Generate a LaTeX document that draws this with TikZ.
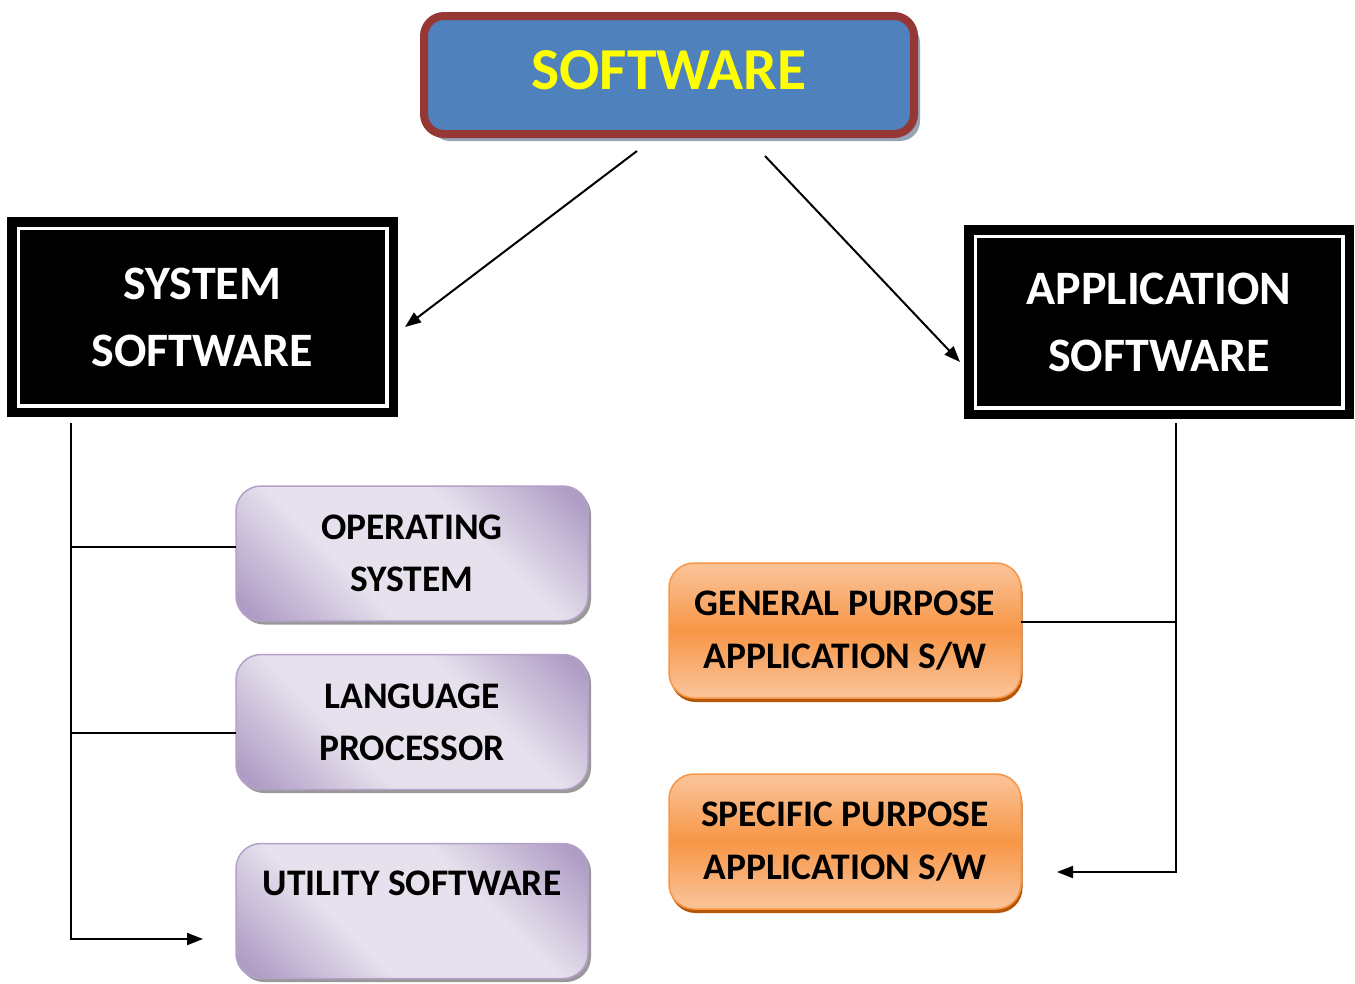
\documentclass[tikz,border=0pt]{standalone}
\usepackage{fontspec}
\setmainfont{Carlito}
\usetikzlibrary{shadows,arrows.meta}
\definecolor{titleblue}{HTML}{4F81BD}
\definecolor{titlered}{HTML}{953735}
\definecolor{titleshadow}{HTML}{97A3B4}
\definecolor{titleyellow}{HTML}{FFFF00}
\definecolor{purplight}{HTML}{E6E1ED}
\definecolor{purpdark}{HTML}{B09DC6}
\definecolor{purpborder}{HTML}{B3A2C7}
\definecolor{orlight}{HTML}{FAC195}
\definecolor{ormid}{HTML}{F79646}
\definecolor{orborder}{HTML}{F79646}
\definecolor{orshadow}{HTML}{B65708}
\pgfdeclarehorizontalshading{purpshade}{100bp}{color(0bp)=(purpdark); color(18bp)=(purpdark); color(38bp)=(purplight); color(62bp)=(purplight); color(82bp)=(purpdark); color(100bp)=(purpdark)}
\pgfdeclareverticalshading{orshade}{100bp}{color(0bp)=(orlight); color(27bp)=(orlight); color(50bp)=(ormid); color(73bp)=(orlight); color(100bp)=(orlight)}
\begin{document}
\begin{tikzpicture}[x=1pt,y=-1pt,
  titlebox/.style={draw=titlered, line width=8pt, fill=titleblue, rounded corners=20pt,
    minimum width=490pt, minimum height=118pt, inner sep=0pt, outer sep=0pt,
    drop shadow={shadow xshift=6pt, shadow yshift=-7pt, fill=titleshadow, opacity=1}},
  titletext/.style={text=titleyellow, font=\fontsize{59.5}{70}\selectfont\bfseries},
  blackbox/.style={draw=black, double=white, double distance=3.5pt, line width=9.5pt,
    fill=black, text=white, inner sep=0pt, outer sep=0pt, align=center,
    font=\fontsize{48}{67}\selectfont\bfseries},
  pbox/.style={rounded corners=25pt, draw=purpborder, line width=1.5pt, shade, shading=purpshade,
    shading angle=45, minimum width=352pt, minimum height=135pt, inner sep=0pt, outer sep=0pt,
    align=center, font=\fontsize{37.5}{52}\selectfont\bfseries,
    drop shadow={shadow xshift=3pt, shadow yshift=-3.5pt, fill=black!40, opacity=1}},
  obox/.style={rounded corners=25pt, draw=orborder, line width=1.5pt, shade, shading=orshade,
    minimum width=352pt, minimum height=135pt, inner sep=0pt, outer sep=0pt,
    align=center, font=\fontsize{37.5}{53}\selectfont\bfseries,
    drop shadow={shadow xshift=1.5pt, shadow yshift=-4pt, fill=orshadow, opacity=1}},
  ptext/.style={font=\fontsize{37.5}{52}\selectfont\bfseries},
  conn/.style={draw=black, line width=2pt},
  arr/.style={conn, -{Triangle[length=16pt,width=12pt]}}
]
\useasboundingbox (0,0) rectangle (1355,983);

\node[titlebox] (soft) at (669,75) {};
\node[titletext] (softtext) at (669,70) {SOFTWARE};

\node[blackbox, minimum width=368.5pt, minimum height=177.5pt] (sys) at (202.5,317) {SYSTEM\\SOFTWARE};
\node[blackbox, minimum width=367.5pt, minimum height=171.5pt] (app) at (1159,322) {APPLICATION\\SOFTWARE};

\node[pbox] (os) at (412,553.5) {OPERATING\\SYSTEM};
\node[pbox] (lang) at (412,722) {LANGUAGE\\PROCESSOR};
\node[pbox] (util) at (412,911) {};
\node[ptext] (utiltext) at (412,883) {UTILITY SOFTWARE};

\node[obox] (gen) at (845,630.5) {GENERAL PURPOSE\\APPLICATION S/W};
\node[obox] (spec) at (845,841.5) {SPECIFIC PURPOSE\\APPLICATION S/W};

\draw[arr] ([shift={(-32,17)}]soft.south) -- ([shift={(18.25,10)}]sys.east);
\draw[arr] ([shift={(96,22)}]soft.south) -- ([shift={(-15.25,40)}]app.west);

\draw[arr] ([shift={(-131.5,17.25)}]sys.south) |- ([shift={(-33,28)}]util.west);
\draw[conn] ([shift={(0,-6.5)}]os.west) -- ++(-165,0);
\draw[conn] ([shift={(0,11)}]lang.west) -- ++(-165,0);

\draw[arr] ([shift={(17,15.25)}]app.south) |- ([shift={(36,30.5)}]spec.east);
\draw[conn] ([shift={(0,-8.5)}]gen.east) -- ++(155,0);
\end{tikzpicture}
\end{document}
